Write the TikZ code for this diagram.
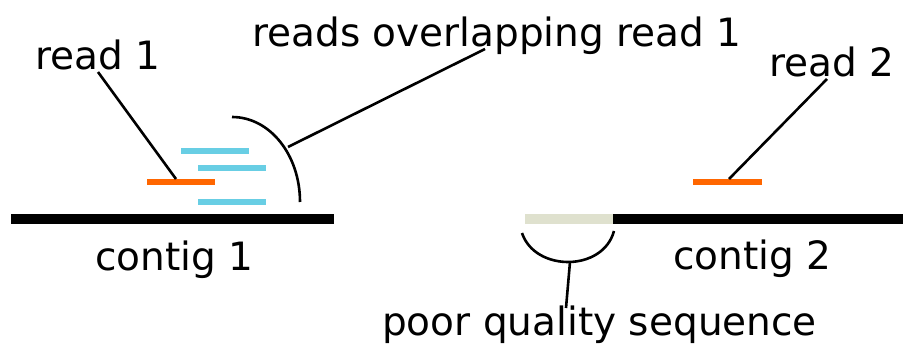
\documentclass[tikz,border=0pt]{standalone}
\usepackage{fontspec}
\setmainfont{DejaVu Sans}
\usetikzlibrary{positioning}
\definecolor{readorange}{RGB}{255,102,0}
\definecolor{readcyan}{RGB}{104,206,228}
\definecolor{poorgray}{RGB}{223,225,206}

\begin{document}
\begin{tikzpicture}[x=1pt,y=-1pt,
    lbl/.style={anchor=base west,inner sep=0pt,font=\fontsize{39}{46}\selectfont},
    contig/.style={line width=10pt},
    rd/.style={line width=5.5pt},
    leader/.style={line width=2.6pt}]
  \useasboundingbox (0,0) rectangle (903,345);

  % the two contigs, the left end of contig 2 is poor quality
  \coordinate (c1a) at (11,219);
  \coordinate (c1b) at (334,219);
  \coordinate (c2a) at (525,219);
  \coordinate (c2m) at (613,219);
  \coordinate (c2b) at (903,219);
  \draw[contig] (c1a) -- (c1b);
  \draw[contig,poorgray] (c2a) -- (c2m);
  \draw[contig] (c2m) -- (c2b);

  % reads
  \draw[rd,readorange] (147,182) coordinate (r1a) -- (215,182) coordinate (r1b);
  \draw[rd,readcyan] (181,151) -- (249,151);
  \draw[rd,readcyan] (198,168) -- (266,168);
  \draw[rd,readcyan] (198,202) -- (266,202);
  \draw[rd,readorange] (693,182) coordinate (r2a) -- (762,182) coordinate (r2b);

  % labels
  \node[lbl] (r1label) at (35,70) {read 1};
  \node[lbl] (overlaplabel) at (252,47) {reads overlapping read 1};
  \node[lbl] (r2label) at (769,77) {read 2};
  \node[lbl] (c1label) at (95,270) {contig 1};
  \node[lbl] (c2label) at (673,269) {contig 2};
  \node[lbl] (poorlabel) at (382,335) {poor quality sequence};

  % brackets
  \draw[leader] (232,117) coordinate (ovtop) .. controls (270,117) and (300,155) .. (300,202) coordinate (ovbot);
  \draw[leader] (522,233) coordinate (pqleft) .. controls (535,272) and (603,272) .. (614,231) coordinate (pqright);

  % leader lines
  \coordinate (r1tip) at (98,72);
  \coordinate (r1end) at (176,179);
  \coordinate (ovtip) at (485,49);
  \coordinate (ovend) at (288,147);
  \coordinate (r2tip) at (827,79);
  \coordinate (r2end) at (729,179);
  \coordinate (pqtip) at (566,308);
  \coordinate (pqend) at (570,262);
  \draw[leader] (r1tip) -- (r1end);
  \draw[leader] (ovtip) -- (ovend);
  \draw[leader] (r2tip) -- (r2end);
  \draw[leader] (pqtip) -- (pqend);
\end{tikzpicture}
\end{document}
